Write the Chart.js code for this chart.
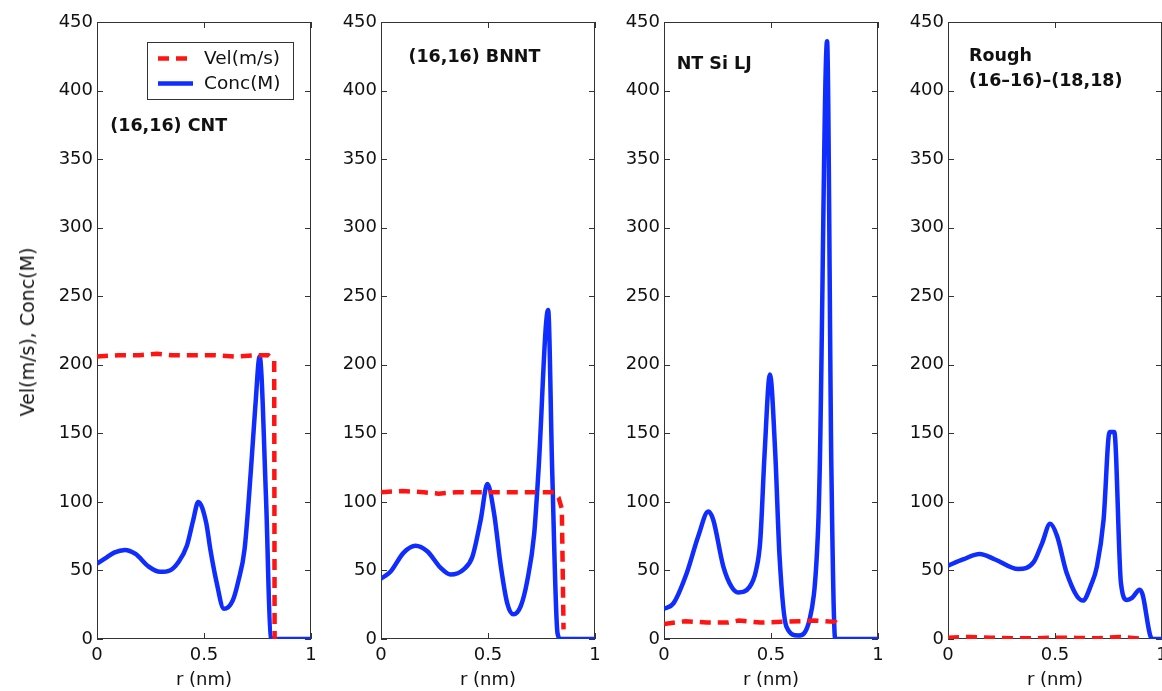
<!DOCTYPE html>
<html>
<head>
<meta charset="utf-8">
<script src="https://cdn.jsdelivr.net/npm/chart.js@4/dist/chart.umd.min.js"></script>
<style>
  html, body { margin: 0; padding: 0; background: #fff; overflow: hidden; }
  #page { position: relative; width: 1162px; height: 691px; overflow: hidden; }
  .panel { position: absolute; top: 0; width: 310px; height: 691px; }
  #ytitle {
    position: absolute; left: 27px; top: 332px;
    transform: translate(-50%, -50%) rotate(-90deg);
    font: 19px "DejaVu Sans"; color: #111; white-space: nowrap;
  }
</style>
</head>
<body>
<div id="page">
  <div class="panel" style="left:17px"><canvas id="p1"></canvas></div>
  <div class="panel" style="left:301px"><canvas id="p2"></canvas></div>
  <div class="panel" style="left:584px"><canvas id="p3"></canvas></div>
  <div class="panel" style="left:868px"><canvas id="p4"></canvas></div>
  <div id="ytitle">Vel(m/s), Conc(M)</div>
</div>
<script>
const yTicks = [0, 50, 100, 150, 200, 250, 300, 350, 400, 450];
const xTicks = [0, 0.5, 1];
const seriesNames = ['Vel(m/s)', 'Conc(M)'];
const panelTitles = [['(16,16) CNT'], ['(16,16) BNNT'], ['NT Si LJ'], ['Rough', '(16–16)–(18,18)']];

// (16,16) CNT
const rVelCnt = [0, 0.1, 0.2, 0.28, 0.35, 0.45, 0.55, 0.65, 0.75, 0.8, 0.828, 0.83];
const velCnt = [206, 207, 207, 208, 207, 207, 207, 206, 207, 207, 203, 0];
const rConcCnt = [0, 0.04, 0.08, 0.13, 0.18, 0.24, 0.295, 0.34, 0.38, 0.42, 0.45, 0.473, 0.51, 0.53, 0.558, 0.593, 0.634, 0.66, 0.69, 0.72, 0.74, 0.76, 0.79, 0.812, 0.83, 1];
const concCnt = [55, 59, 63, 65, 62, 53, 49, 50, 56, 68, 87, 100, 85, 65, 42, 22, 28, 42, 66, 125, 170, 206, 102, 1, 0, 0];

// (16,16) BNNT
const rVelBnnt = [0, 0.1, 0.2, 0.27, 0.35, 0.45, 0.55, 0.65, 0.75, 0.81, 0.83, 0.845, 0.853];
const velBnnt = [107, 108, 107, 106, 107, 107, 107, 107, 107, 107, 103, 95, 7];
const rConcBnnt = [0, 0.044, 0.106, 0.161, 0.216, 0.278, 0.325, 0.388, 0.427, 0.466, 0.497, 0.528, 0.56, 0.59, 0.619, 0.653, 0.684, 0.716, 0.736, 0.781, 0.8, 0.825, 0.84, 1];
const concBnnt = [44, 49, 63, 68, 64, 52, 47, 51, 60, 87, 113, 92, 53, 26, 18, 24, 43, 77, 123, 240, 123, 4, 0, 0];

// NT Si LJ
const rVelSi = [0, 0.1, 0.2, 0.3, 0.35, 0.45, 0.55, 0.65, 0.7, 0.8, 0.822];
const velSi = [11, 13, 12, 12, 13.5, 12, 12.5, 13, 13.5, 12.5, 8];
const rConcSi = [0, 0.044, 0.106, 0.16, 0.207, 0.23, 0.277, 0.316, 0.347, 0.4, 0.43, 0.45, 0.47, 0.495, 0.52, 0.54, 0.572, 0.627, 0.68, 0.72, 0.728, 0.762, 0.782, 0.8, 1];
const concSi = [22, 26, 48, 75, 93, 87, 53, 38, 34, 38, 50, 72, 135, 193, 135, 60, 9, 2.5, 14, 80, 126, 436, 126, 0, 0];

// Rough (16-16)-(18,18)
const rVelRough = [0, 0.1, 0.2, 0.3, 0.4, 0.5, 0.6, 0.7, 0.8, 0.85, 0.92];
const velRough = [1, 1.5, 1, 0.5, 0.5, 1, 0.8, 0.5, 1.5, 1, 0];
const rConcRough = [0, 0.07, 0.148, 0.22, 0.328, 0.4, 0.44, 0.477, 0.51, 0.555, 0.63, 0.67, 0.696, 0.727, 0.755, 0.777, 0.808, 0.836, 0.86, 0.896, 0.91, 0.946, 0.96, 1];
const concRough = [53.5, 58, 62, 58, 51, 56, 70, 84, 75, 48, 28, 40, 53, 87, 151, 151, 41, 28.5, 30, 36, 32, 2, 0, 0];

const velColor = 'rgb(255,20,20)';
const concColor = 'rgb(15,45,255)';
const fontFamily = 'DejaVu Sans';

const pts = (xs, ys) => xs.map((x, i) => ({ x: x, y: ys[i] }));

const panels = [
  { id: 'p1', title: panelTitles[0], at: [0.062, 374], rVel: rVelCnt, vel: velCnt, rConc: rConcCnt, conc: concCnt, legend: true },
  { id: 'p2', title: panelTitles[1], at: [0.128, 424], rVel: rVelBnnt, vel: velBnnt, rConc: rConcBnnt, conc: concBnnt },
  { id: 'p3', title: panelTitles[2], at: [0.059, 419], rVel: rVelSi, vel: velSi, rConc: rConcSi, conc: concSi },
  { id: 'p4', title: panelTitles[3], at: [0.098, 425], rVel: rVelRough, vel: velRough, rConc: rConcRough, conc: concRough },
];

// matlab style box with inward ticks, text label and legend
const framePlugin = {
  id: 'frame',
  beforeDatasetsDraw(chart) {
    const { ctx, chartArea: a } = chart;
    const x = chart.scales.x, y = chart.scales.y;
    ctx.save();
    ctx.strokeStyle = '#333';
    ctx.lineWidth = 1;
    ctx.strokeRect(Math.round(a.left) + 0.5, Math.round(a.top) + 0.5, Math.round(a.width) - 1, Math.round(a.height) - 1);
    ctx.beginPath();
    xTicks.forEach(v => {
      const px = Math.round(x.getPixelForValue(v)) + 0.5;
      ctx.moveTo(px, a.bottom); ctx.lineTo(px, a.bottom - 6);
      ctx.moveTo(px, a.top); ctx.lineTo(px, a.top + 6);
    });
    yTicks.forEach(v => {
      const py = Math.round(y.getPixelForValue(v)) + 0.5;
      ctx.moveTo(a.left, py); ctx.lineTo(a.left + 6, py);
      ctx.moveTo(a.right, py); ctx.lineTo(a.right - 6, py);
    });
    ctx.stroke();
    ctx.restore();
  },
  afterDatasetsDraw(chart, args, opts) {
    const { ctx, chartArea: a } = chart;
    const x = chart.scales.x, y = chart.scales.y;
    ctx.save();
    ctx.fillStyle = '#111';
    ctx.font = 'bold 17.5px "' + fontFamily + '"';
    ctx.textBaseline = 'middle';
    ctx.textAlign = 'left';
    const tx = x.getPixelForValue(opts.at[0]);
    const ty = y.getPixelForValue(opts.at[1]);
    opts.title.forEach((line, i) => ctx.fillText(line, tx, ty + i * 25.5));

    if (opts.legend) {
      const bx = a.left + 50, by = a.top + 20, bw = 146, bh = 57;
      ctx.fillStyle = '#fff';
      ctx.fillRect(bx, by, bw, bh);
      ctx.strokeStyle = '#333';
      ctx.lineWidth = 1;
      ctx.strokeRect(bx + 0.5, by + 0.5, bw, bh);
      chart.data.datasets.forEach((ds, i) => {
        const ly = by + 16.5 + i * 25;
        ctx.beginPath();
        ctx.strokeStyle = ds.borderColor;
        ctx.lineWidth = ds.borderWidth;
        ctx.setLineDash(ds.borderDash || []);
        ctx.moveTo(bx + 11, ly);
        ctx.lineTo(bx + 46, ly);
        ctx.stroke();
        ctx.setLineDash([]);
        ctx.fillStyle = '#111';
        ctx.font = '18.5px "' + fontFamily + '"';
        ctx.fillText(ds.label, bx + 57, ly + 1);
      });
    }
    ctx.restore();
  },
};

const tickFont = { family: fontFamily, size: 18 };

panels.forEach(p => {
  new Chart(document.getElementById(p.id).getContext('2d'), {
    type: 'line',
    data: {
      datasets: [
        {
          label: seriesNames[0],
          data: pts(p.rVel, p.vel),
          borderColor: velColor,
          borderWidth: 4.5,
          borderDash: [11, 7],
          tension: 0,
          fill: false,
        },
        {
          label: seriesNames[1],
          data: pts(p.rConc, p.conc),
          borderColor: concColor,
          borderWidth: 4.5,
          cubicInterpolationMode: 'monotone',
          fill: false,
        },
      ],
    },
    options: {
      responsive: true,
      maintainAspectRatio: false,
      animation: false,
      layout: { padding: { top: 22, right: 16, left: 0, bottom: 0 } },
      elements: { point: { radius: 0 } },
      plugins: {
        legend: { display: false },
        tooltip: { enabled: false },
        frame: { title: p.title, at: p.at, legend: !!p.legend },
      },
      scales: {
        x: {
          type: 'linear',
          min: 0,
          max: 1,
          grid: { display: false, drawTicks: false },
          border: { display: false },
          afterBuildTicks: s => { s.ticks = xTicks.map(v => ({ value: v })); },
          afterFit: s => { s.height = 52; },
          ticks: { padding: 6, color: '#111', font: tickFont, maxRotation: 0, autoSkip: false, callback: v => String(v) },
          title: { display: true, text: 'r (nm)', color: '#111', font: tickFont, padding: 0 },
        },
        y: {
          type: 'linear',
          min: 0,
          max: 450,
          grid: { display: false, drawTicks: false },
          border: { display: false },
          afterBuildTicks: s => { s.ticks = yTicks.map(v => ({ value: v })); },
          afterFit: s => { s.width = 80; },
          ticks: { padding: 4, color: '#111', font: tickFont, autoSkip: false, callback: v => String(v) },
        },
      },
    },
    plugins: [framePlugin],
  });
});
</script>
</body>
</html>
